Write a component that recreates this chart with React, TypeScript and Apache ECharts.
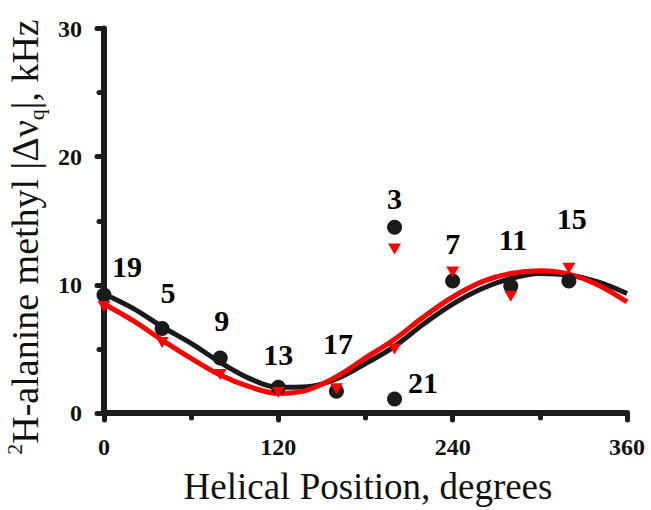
import React, { useEffect, useRef } from "react";
import * as echarts from "echarts";

const xTicks = [0, 120, 240, 360];
const yTicks = [0, 10, 20, 30];

// black circles (degrees, kHz)
const blackPoints = [
  [0, 9.2], [40, 6.6], [80, 4.3], [120, 2.0], [160, 1.7],
  [200, 1.1], [200, 14.5], [240, 10.3], [280, 9.9], [320, 10.3],
];
// red triangles
const redPoints = [
  [0, 8.3], [40, 5.5], [80, 3.0], [120, 1.6], [160, 1.9],
  [200, 5.0], [200, 12.8], [240, 11.0], [280, 9.1], [320, 11.3],
];
// fitted curves
const curveX = [0, 20, 40, 60, 80, 100, 120, 140, 160, 180, 200, 220, 240, 260, 280, 300, 320, 340, 360];
const blackCurveY = [9.28, 8.16, 6.73, 5.43, 3.95, 2.7, 2.0, 2.05, 2.65, 3.85, 5.2, 6.95, 8.5, 9.7, 10.5, 10.89, 10.76, 10.23, 9.33];
const redCurveY = [8.5, 7.2, 5.69, 4.26, 2.96, 2.05, 1.53, 1.79, 2.83, 4.3, 5.75, 7.5, 9.05, 10.23, 10.89, 11.09, 10.83, 9.98, 8.67];
// residue labels: [x, y, text]
const residueLabels: [number, number, string][] = [
  [15.8, 11.45, "19"], [44, 9.4, "5"], [81, 7.2, "9"], [120, 4.6, "13"],
  [161, 5.4, "17"], [219.6, 2.4, "21"], [200, 16.75, "3"], [240, 13.25, "7"],
  [281.5, 13.5, "11"], [322, 15.2, "15"],
];

const AXIS_COLOR = "#1c1c1c";
const SERIF = "'Liberation Serif', 'Times New Roman', serif";

export default function App() {
  const ref = useRef<HTMLDivElement>(null);
  useEffect(() => {
    if (!ref.current) return;
    const chart = echarts.init(ref.current, undefined, { renderer: "svg" });
    const axisCommon = {
      splitLine: { show: false },
      axisLine: { show: true, lineStyle: { color: AXIS_COLOR, width: 6, cap: "round" } },
      axisTick: { show: true, length: 7, lineStyle: { color: AXIS_COLOR, width: 5, cap: "round" } },
      minorTick: { show: true, splitNumber: 2, length: 5, lineStyle: { color: AXIS_COLOR, width: 5, cap: "round" } },
      minorSplitLine: { show: false },
    };
    const tickLabel = {
      margin: 22,
      fontFamily: SERIF,
      fontWeight: "bold",
      fontSize: 24,
      color: "#111",
    };
    chart.setOption({
      animation: false,
      backgroundColor: "#ffffff",
      grid: { left: 104, right: 24, top: 28.5, bottom: 97, containLabel: false },
      xAxis: {
        type: "value",
        min: xTicks[0],
        max: xTicks[xTicks.length - 1],
        interval: 120,
        ...axisCommon,
        axisLabel: tickLabel,
      },
      yAxis: {
        type: "value",
        min: yTicks[0],
        max: yTicks[yTicks.length - 1],
        interval: 10,
        ...axisCommon,
        axisLabel: tickLabel,
      },
      graphic: [
        {
          type: "text",
          x: 25,
          y: 237,
          rotation: Math.PI / 2,
          style: {
            text: "{sup|2}{n|H-alanine methyl |Δν}{sub|q}{n||, kHz}",
            align: "center",
            verticalAlign: "middle",
            fill: "#111",
            rich: {
              n: { fontFamily: SERIF, fontSize: 38, lineHeight: 44, fill: "#111", verticalAlign: "middle" },
              sup: { fontFamily: SERIF, fontSize: 22, lineHeight: 44, fill: "#111", verticalAlign: "top", padding: [0, 0, 16, 0] },
              sub: { fontFamily: SERIF, fontSize: 22, lineHeight: 44, fill: "#111", verticalAlign: "bottom", padding: [13, 0, 0, 0] },
            },
          },
        },
        {
          type: "text",
          x: 368,
          y: 486,
          style: {
            text: "Helical Position, degrees",
            align: "center",
            verticalAlign: "middle",
            fontFamily: SERIF,
            fontSize: 37,
            fill: "#111",
          },
        },
      ],
      series: [
        {
          type: "line",
          data: curveX.map((x, i) => [x, blackCurveY[i]]),
          smooth: 0.35,
          showSymbol: false,
          symbol: "none",
          lineStyle: { color: "#1a1a1a", width: 5 },
          z: 2,
        },
        {
          type: "line",
          data: curveX.map((x, i) => [x, redCurveY[i]]),
          smooth: 0.35,
          showSymbol: false,
          symbol: "none",
          lineStyle: { color: "#ff0000", width: 5 },
          z: 3,
        },
        {
          type: "scatter",
          data: blackPoints,
          symbol: "circle",
          symbolSize: 15,
          itemStyle: { color: "#1a1a1a", opacity: 1 },
          z: 4,
        },
        {
          type: "scatter",
          data: redPoints,
          symbol: "path://M0,0 L10,0 L5,9 Z",
          symbolSize: [13, 11],
          itemStyle: { color: "#ff0000", opacity: 1 },
          z: 5,
        },
        {
          type: "scatter",
          data: residueLabels,
          symbolSize: 1,
          itemStyle: { color: "rgba(0,0,0,0)" },
          label: {
            show: true,
            position: "inside",
            formatter: (p: any) => p.data[2],
            fontFamily: SERIF,
            fontWeight: "bold",
            fontSize: 30,
            color: "#000",
            opacity: 1,
            textBorderWidth: 0,
          },
          z: 6,
          silent: true,
        },
      ],
    });
    return () => chart.dispose();
  }, []);
  return (
    <div
      ref={ref}
      style={{ position: "absolute", left: 0, top: 0, width: 651, height: 510 }}
    />
  );
}
